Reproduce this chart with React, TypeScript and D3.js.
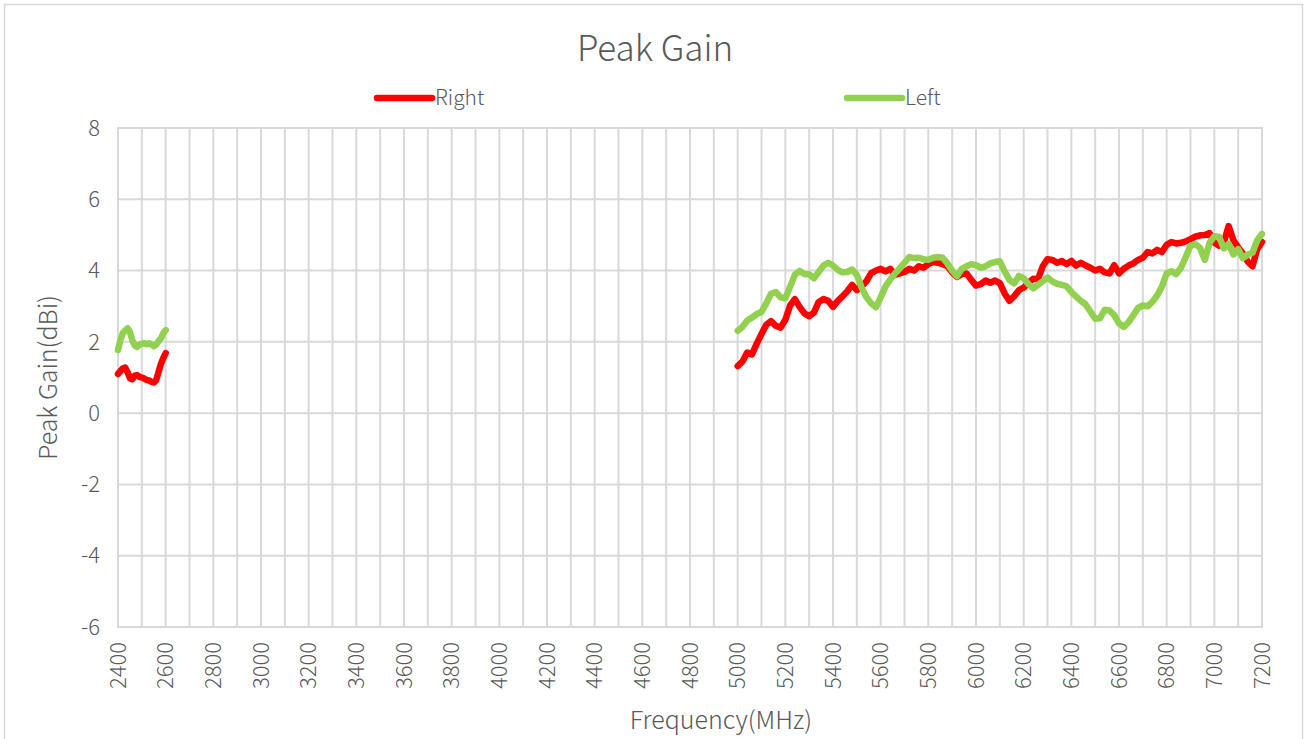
import { useEffect, useRef } from 'react';
import * as d3 from 'd3';

const FONT = "'Noto Sans CJK SC', 'Noto Sans', sans-serif";
const TEXT = '#595959';
const GRID = '#d9d9d9';

const seriesNames = ['Right', 'Left'];
const seriesColors = ['#ff0000', '#92d050'];

const xTicks = d3.range(2400, 7201, 200);
const yTicks = [-6, -4, -2, 0, 2, 4, 6, 8];

// 2.4 GHz band, 10 MHz steps
const lowFreq = d3.range(2400, 2601, 10);
const rightLow = [1.10, 1.18, 1.25, 1.28, 1.15, 0.98, 0.95, 1.05, 1.07, 1.02, 1.00, 0.97, 0.93, 0.92, 0.88, 0.86, 0.92, 1.15, 1.38, 1.55, 1.68];
const leftLow = [1.77, 2.05, 2.25, 2.32, 2.38, 2.28, 2.05, 1.90, 1.86, 1.92, 1.95, 1.96, 1.93, 1.96, 1.93, 1.88, 1.92, 2.02, 2.10, 2.24, 2.33];

// 5-7 GHz band, 20 MHz steps
const highFreq = d3.range(5000, 7201, 20);
const rightHigh = [
  1.32, 1.45, 1.70, 1.65, 1.95, 2.22, 2.48, 2.58, 2.45, 2.40,
  2.62, 3.02, 3.20, 2.98, 2.80, 2.72, 2.82, 3.12, 3.20, 3.15,
  2.98, 3.15, 3.28, 3.42, 3.60, 3.45, 3.55, 3.70, 3.93, 4.00,
  4.05, 3.98, 4.05, 3.88, 3.92, 3.96, 4.05, 4.00, 4.12, 4.08,
  4.18, 4.24, 4.22, 4.18, 4.12, 3.95, 3.82, 3.90, 3.92, 3.74,
  3.58, 3.62, 3.72, 3.66, 3.72, 3.65, 3.36, 3.15, 3.28, 3.45,
  3.52, 3.66, 3.77, 3.76, 4.12, 4.32, 4.30, 4.22, 4.27, 4.18,
  4.27, 4.14, 4.22, 4.14, 4.08, 4.00, 4.05, 3.95, 3.92, 4.15,
  3.92, 4.05, 4.14, 4.20, 4.30, 4.36, 4.52, 4.48, 4.58, 4.52,
  4.72, 4.80, 4.76, 4.78, 4.82, 4.88, 4.95, 4.99, 5.00, 5.05,
  4.78, 4.70, 4.80, 5.25, 4.85, 4.65, 4.48, 4.25, 4.12, 4.60,
  4.80,
];
const leftHigh = [
  2.31, 2.42, 2.60, 2.68, 2.78, 2.84, 3.08, 3.35, 3.40, 3.25,
  3.22, 3.55, 3.88, 3.99, 3.90, 3.90, 3.78, 3.96, 4.14, 4.22,
  4.14, 4.02, 3.95, 3.96, 4.03, 3.88, 3.52, 3.25, 3.08, 2.97,
  3.25, 3.55, 3.75, 3.92, 4.06, 4.22, 4.38, 4.35, 4.36, 4.32,
  4.30, 4.36, 4.38, 4.36, 4.20, 4.00, 3.84, 4.05, 4.12, 4.18,
  4.15, 4.08, 4.12, 4.20, 4.24, 4.26, 3.98, 3.74, 3.64, 3.85,
  3.78, 3.62, 3.50, 3.60, 3.70, 3.80, 3.70, 3.63, 3.60, 3.56,
  3.40, 3.27, 3.15, 3.05, 2.85, 2.65, 2.66, 2.90, 2.88, 2.75,
  2.52, 2.42, 2.55, 2.75, 2.95, 3.02, 3.00, 3.12, 3.30, 3.55,
  3.92, 3.98, 3.90, 4.08, 4.38, 4.70, 4.74, 4.64, 4.30, 4.78,
  4.96, 4.95, 4.62, 4.75, 4.45, 4.60, 4.35, 4.45, 4.50, 4.85,
  5.03,
];

function PeakGainChart() {
  const svgRef = useRef<SVGSVGElement>(null);

  useEffect(() => {
    if (!svgRef.current) return;
    const svg = d3.select(svgRef.current);
    svg.selectAll('*').remove();

    const width = 1307;
    const height = 739;
    const margin = { top: 128, right: 45, bottom: 112, left: 118 };

    const x = d3.scaleLinear().domain([2400, 7200]).range([margin.left, width - margin.right]);
    const y = d3.scaleLinear().domain([-6, 8]).range([height - margin.bottom, margin.top]);

    // chart frame
    svg.append('rect')
      .attr('x', 4.5).attr('y', 4.5)
      .attr('width', width - 9).attr('height', height + 20)
      .attr('fill', '#fff').attr('stroke', GRID).attr('stroke-width', 1.5);

    // gridlines, every 100 MHz / 2 dBi
    const g = svg.append('g');
    g.selectAll('line.vgrid')
      .data(d3.range(2400, 7201, 100))
      .join('line')
      .attr('x1', d => x(d)).attr('x2', d => x(d))
      .attr('y1', y(8)).attr('y2', y(-6))
      .attr('stroke', GRID).attr('stroke-width', 2);
    g.selectAll('line.hgrid')
      .data(yTicks)
      .join('line')
      .attr('x1', x(2400) - 1).attr('x2', x(7200) + 1)
      .attr('y1', d => y(d)).attr('y2', d => y(d))
      .attr('stroke', GRID).attr('stroke-width', 2);

    g.selectAll('text.ytick')
      .data(yTicks)
      .join('text')
      .attr('x', x(2400) - 18)
      .attr('y', d => y(d))
      .attr('dy', '0.35em')
      .attr('text-anchor', 'end')
      .attr('font-family', FONT)
      .attr('font-weight', 300)
      .attr('font-size', 22)
      .attr('fill', TEXT)
      .text(d => d);

    g.selectAll('text.xtick')
      .data(xTicks)
      .join('text')
      .attr('transform', d => `translate(${x(d)},${y(-6) + 15}) rotate(-90)`)
      .attr('dy', '0.35em')
      .attr('text-anchor', 'end')
      .attr('font-family', FONT)
      .attr('font-weight', 300)
      .attr('font-size', 22)
      .attr('fill', TEXT)
      .text(d => d);

    const line = d3.line<[number, number]>()
      .x(d => x(d[0]))
      .y(d => y(d[1]));

    const bands = [
      [d3.zip(lowFreq, rightLow), d3.zip(highFreq, rightHigh)],
      [d3.zip(lowFreq, leftLow), d3.zip(highFreq, leftHigh)],
    ];
    bands.forEach((segs, i) => {
      segs.forEach(seg => {
        g.append('path')
          .attr('d', line(seg as [number, number][]))
          .attr('fill', 'none')
          .attr('stroke', seriesColors[i])
          .attr('stroke-width', 6.5)
          .attr('stroke-linejoin', 'round')
          .attr('stroke-linecap', 'round');
      });
    });

    svg.append('text')
      .attr('x', 655).attr('y', 61)
      .attr('text-anchor', 'middle')
      .attr('font-family', FONT)
      .attr('font-weight', 300)
      .attr('font-size', 35)
      .attr('fill', TEXT)
      .text('Peak Gain');

    // legend
    const legendX = [377, 847];
    seriesNames.forEach((name, i) => {
      svg.append('line')
        .attr('x1', legendX[i]).attr('x2', legendX[i] + 55)
        .attr('y1', 98).attr('y2', 98)
        .attr('stroke', seriesColors[i])
        .attr('stroke-width', 6.5)
        .attr('stroke-linecap', 'round');
      svg.append('text')
        .attr('x', legendX[i] + 58).attr('y', 98)
        .attr('dy', '0.35em')
        .attr('font-family', FONT)
        .attr('font-weight', 300)
        .attr('font-size', 21)
        .attr('fill', TEXT)
        .text(name);
    });

    svg.append('text')
      .attr('x', 721).attr('y', 729)
      .attr('text-anchor', 'middle')
      .attr('font-family', FONT)
      .attr('font-weight', 300)
      .attr('font-size', 25)
      .attr('fill', TEXT)
      .text('Frequency(MHz)');
    svg.append('text')
      .attr('transform', `translate(57,${(y(8) + y(-6)) / 2}) rotate(-90)`)
      .attr('text-anchor', 'middle')
      .attr('font-family', FONT)
      .attr('font-weight', 300)
      .attr('font-size', 25)
      .attr('fill', TEXT)
      .text('Peak Gain(dBi)');
  }, []);

  return (
    <svg ref={svgRef} width={1307} height={739}
      style={{ position: 'absolute', left: 0, top: 0, display: 'block', background: '#fff' }} />
  );
}

export default function App() {
  return <PeakGainChart />;
}
